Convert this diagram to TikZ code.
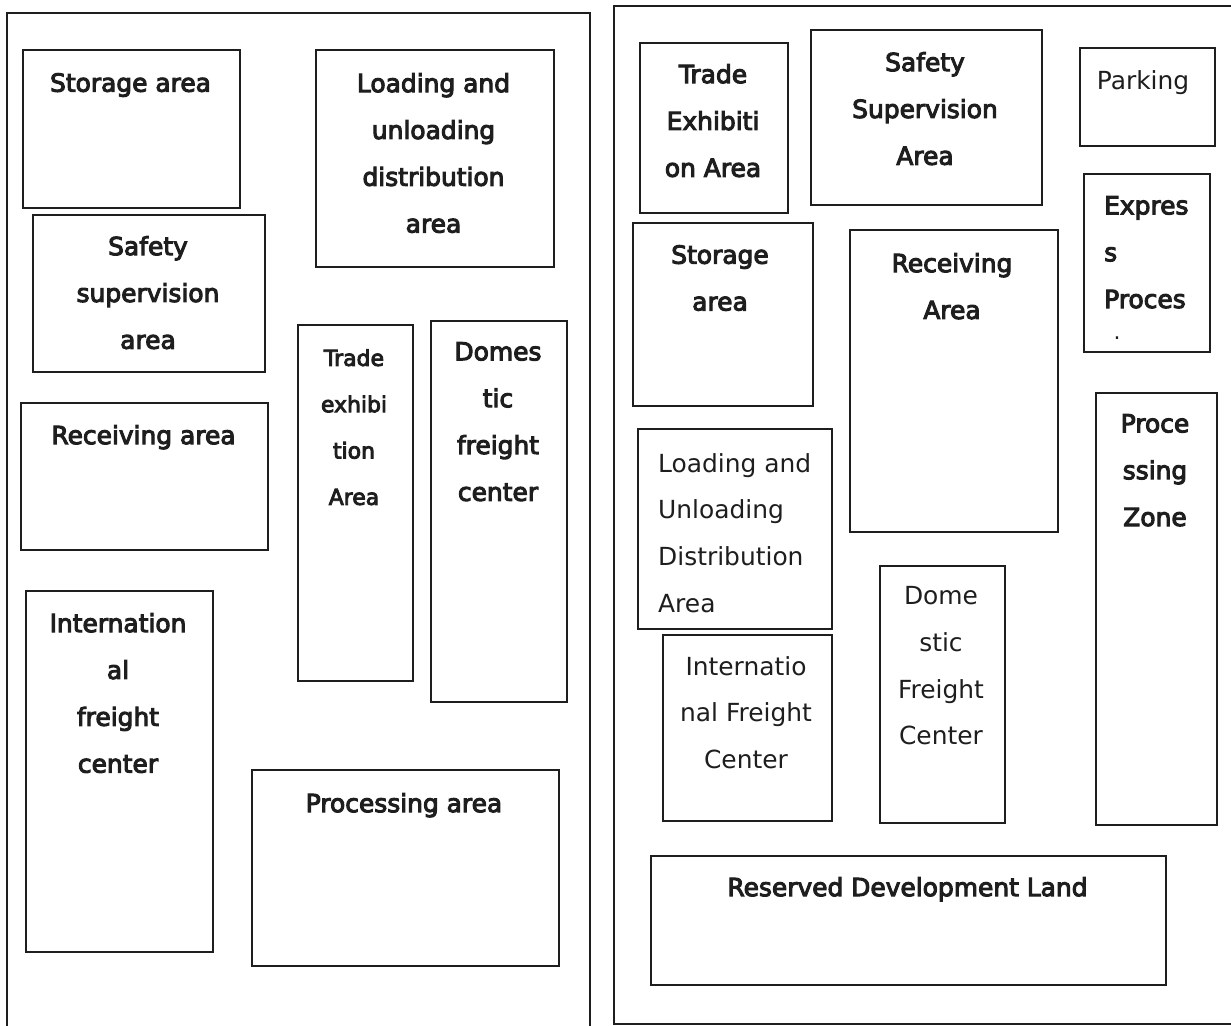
\documentclass[tikz,border=0pt]{standalone}
\usepackage{fontspec}
\setmainfont{DejaVu Sans}
\newfontfamily\zoneBold{DejaVu Sans}[FakeBold=4]
\usepackage{xcolor}
\definecolor{lineColor}{HTML}{1E1E1E}
\definecolor{textColor}{HTML}{1E1E1E}
\def\zoneFont{\fontsize{25}{47}\selectfont}
\def\smallFont{\fontsize{22}{46.5}\selectfont}

\begin{document}
\begin{tikzpicture}[x=1bp,y=-1bp,
  zone/.style={draw=lineColor, line width=2bp, inner sep=0pt, anchor=north west},
  frame/.style={draw=lineColor, line width=2bp},
  zonetext/.style={font=\zoneFont\zoneBold, text=textColor, align=center, anchor=north, inner sep=0pt},
  zonetextr/.style={zonetext, font=\zoneFont},
  zonetextl/.style={zonetextr, align=left, anchor=north west}]

\useasboundingbox (0, 0) rectangle (1231, 1026);

% frames
\draw[frame] (6.5, 1040) -- (6.5, 13) -- (589.5, 13) -- (589.5, 1040);
\draw[frame] (1240, 6) -- (614, 6) -- (614, 1024) -- (1240, 1024);

% left plan
\begin{scope}
\node[zone, minimum width=217bp, minimum height=158bp] (stoL) at (22, 49) {};
\node[zonetext] (stoLt) at (130.5, 73) {Storage area};
\node[zone, minimum width=238bp, minimum height=217bp] (loadL) at (315, 49) {};
\node[zonetext] (loadLt) at (433.5, 73) {Loading and\\unloading\\distribution\\area};
\node[zone, minimum width=232bp, minimum height=157bp] (safeL) at (32, 214) {};
\node[zonetext] (safeLt) at (148, 236) {Safety\\supervision\\area};
\node[zone, minimum width=247bp, minimum height=147bp] (recvL) at (20, 402) {};
\node[zonetext] (recvLt) at (143.5, 425) {Receiving area};
\node[zone, minimum width=115bp, minimum height=356bp] (tradeL) at (297, 324) {};
\node[zonetext, font=\smallFont\zoneBold] (tradeLt) at (354, 349) {Trade\\exhibi\\tion\\Area};
\node[zone, minimum width=136bp, minimum height=381bp] (domL) at (430, 320) {};
\node[zonetext] (domLt) at (498, 342) {Domes\\tic\\freight\\center};
\node[zone, minimum width=187bp, minimum height=361bp] (intlL) at (25, 590) {};
\node[zonetext] (intlLt) at (118, 613) {Internation\\al\\freight\\center};
\node[zone, minimum width=307bp, minimum height=196bp] (procL) at (251, 769) {};
\node[zonetext] (procLt) at (404, 793) {Processing area};
\end{scope}

% right plan
\begin{scope}
\node[zone, minimum width=148bp, minimum height=170bp] (tradeR) at (639, 42) {};
\node[zonetext] (tradeRt) at (713, 64) {Trade\\Exhibiti\\on Area};
\node[zone, minimum width=231bp, minimum height=175bp] (safeR) at (810, 29) {};
\node[zonetext] (safeRt) at (925, 52) {Safety\\Supervision\\Area};
\node[zone, minimum width=135bp, minimum height=98bp] (park) at (1079, 47) {};
\node[zonetextr] (parkt) at (1143, 70) {Parking};
\node[zone, minimum width=126bp, minimum height=178bp] (expr) at (1083, 173) {};
\node[zonetext, align=left, anchor=north west] (exprt) at (1104, 196) {Expres\\s\\Proces};
\node[zonetextr, font=\smallFont, anchor=base] (exprdot) at (1117, 339) {.};
\node[zone, minimum width=180bp, minimum height=183bp] (stoR) at (632, 222) {};
\node[zonetext] (stoRt) at (720, 245) {Storage\\area};
\node[zone, minimum width=208bp, minimum height=302bp] (recvR) at (849, 229) {};
\node[zonetext] (recvRt) at (952, 253) {Receiving\\Area};
\node[zone, minimum width=121bp, minimum height=432bp] (procR) at (1095, 392) {};
\node[zonetext] (procRt) at (1155, 414) {Proce\\ssing\\Zone};
\node[zone, minimum width=194bp, minimum height=200bp] (loadR) at (637, 428) {};
\node[zonetextl] (loadRt) at (658, 453) {Loading and\\Unloading\\Distribution\\Area};
\node[zone, minimum width=169bp, minimum height=186bp] (intlR) at (662, 634) {};
\node[zonetextr] (intlRt) at (746, 656) {Internatio\\nal Freight\\Center};
\node[zone, minimum width=125bp, minimum height=257bp] (domR) at (879, 565) {};
\node[zonetextr] (domRt) at (941, 586) {Dome\\stic\\Freight\\Center};
\node[zone, minimum width=515bp, minimum height=129bp] (resv) at (650, 855) {};
\node[zonetext] (resvt) at (907.5, 877) {Reserved Development Land};
\end{scope}

\end{tikzpicture}
\end{document}
